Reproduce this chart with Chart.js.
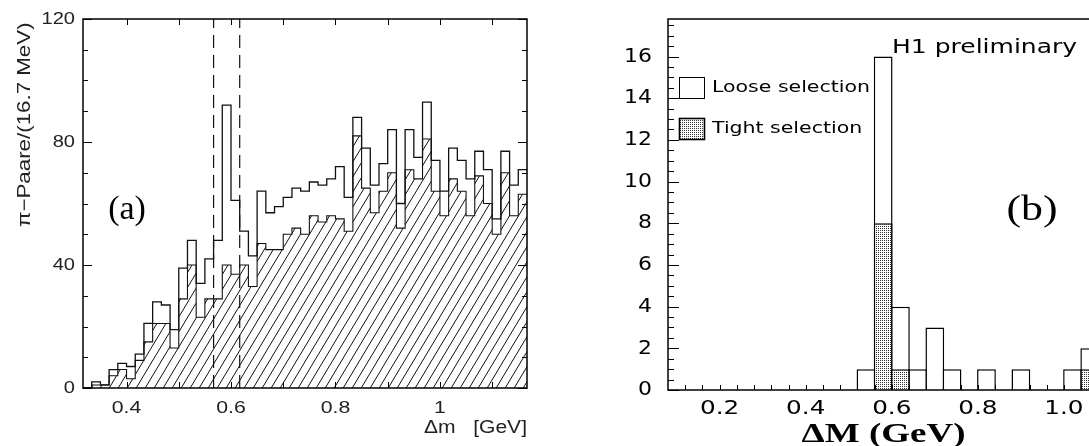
<!DOCTYPE html>
<html>
<head>
<meta charset="utf-8">
<script src="https://cdn.jsdelivr.net/npm/chart.js@4.4.1/dist/chart.umd.min.js"></script>
<style>
  html, body { margin: 0; padding: 0; background: #fff; overflow: hidden; }
  #page { position: relative; width: 1089px; height: 446px; overflow: hidden; background: #fff; }
  #pairs { position: absolute; left: 0; top: 0; }
  #dm { position: absolute; left: 560px; top: 0; }
</style>
</head>
<body>
<div id="page">
  <canvas id="pairs" width="545" height="446"></canvas>
  <canvas id="dm" width="600" height="446"></canvas>
</div>
<script>
// (a) pion pairs per 16.7 MeV bin; bin edges are counted in 1/60 GeV
const PAIR_FIRST_EDGE = 19;
const PAIR_ALL = [0, 2, 1, 6, 8, 7, 11, 21, 28, 27, 19, 39, 48, 34, 42, 48, 92, 61, 51, 43,
  64, 57, 59, 62, 65, 64, 67, 66, 68, 72, 62, 88, 78, 66, 73, 84, 60, 84, 75, 93,
  74, 64, 78, 74, 68, 77, 71, 55, 77, 66, 71];
const PAIR_HATCHED = [0, 1, 1, 4, 6, 3, 9, 15, 21, 21, 13, 29, 40, 23, 29, 29, 40, 37, 40, 33,
  47, 45, 45, 50, 52, 50, 56, 54, 56, 55, 51, 82, 65, 57, 64, 70, 52, 71, 68, 81,
  64, 56, 68, 64, 56, 69, 60, 50, 70, 56, 63];
const PAIR_CUTS = [34 / 60, 37 / 60];
const PAIR_Y_LABELS = [0, 40, 80, 120];
const PAIR_X_LABELS = [0.4, 0.6, 0.8, 1.0];

// (b) delta M, 40 MeV bins (low edges)
const DM_WIDTH = 0.04;
const DM_BINS = [0.52, 0.56, 0.60, 0.64, 0.68, 0.72, 0.76, 0.80, 0.84, 0.88, 0.92, 0.96, 1.00, 1.04];
const DM_LOOSE = [1, 16, 4, 1, 3, 1, 0, 1, 0, 1, 0, 0, 1, 2];
const DM_TIGHT = [0, 8, 1, 0, 0, 0, 0, 0, 0, 0, 0, 0, 0, 1];
const DM_Y_LABELS = [0, 2, 4, 6, 8, 10, 12, 14, 16];
const DM_X_LABELS = [0.2, 0.4, 0.6, 0.8, 1.0];

function hatchPattern() {
  const c = document.createElement('canvas');
  c.width = 9; c.height = 15;
  const g = c.getContext('2d');
  g.strokeStyle = '#111';
  g.lineWidth = 1;
  g.beginPath();
  for (const dx of [-9, 0, 9]) { g.moveTo(dx, 15); g.lineTo(dx + 9, 0); }
  g.stroke();
  return g.createPattern(c, 'repeat');
}

function stipplePattern() {
  const c = document.createElement('canvas');
  c.width = 2; c.height = 2;
  const g = c.getContext('2d');
  g.fillStyle = '#fff'; g.fillRect(0, 0, 2, 2);
  g.fillStyle = '#333'; g.fillRect(0, 0, 1, 1);
  return g.createPattern(c, 'repeat');
}

// text stretched horizontally by sx
function putText(ctx, str, x, y, o) {
  ctx.save();
  ctx.font = o.font;
  ctx.fillStyle = o.color || '#000';
  ctx.textAlign = o.align || 'left';
  ctx.textBaseline = o.baseline || 'middle';
  ctx.translate(x, y);
  if (o.rotate) ctx.rotate(o.rotate);
  ctx.scale(o.sx || 1, 1);
  ctx.fillText(str, 0, 0);
  ctx.restore();
}

// frame, inward ticks and tick labels
const axisDecor = {
  id: 'axisDecor',
  afterDraw(chart, _args, o) {
    const { ctx, chartArea: a, scales: { x, y } } = chart;
    ctx.save();
    ctx.strokeStyle = '#000';
    ctx.lineWidth = 1;
    ctx.beginPath();
    for (const t of o.yTicks) {
      const py = Math.round(y.getPixelForValue(t.v)) + 0.5;
      const len = t.major ? o.yMajorLen : o.yMinorLen;
      ctx.moveTo(a.left, py); ctx.lineTo(a.left + len, py);
      if (o.bothSides) { ctx.moveTo(a.right, py); ctx.lineTo(a.right - len, py); }
    }
    for (const v of o.xTicks) {
      const px = Math.round(x.getPixelForValue(v)) + 0.5;
      ctx.moveTo(px, a.bottom); ctx.lineTo(px, a.bottom - o.xLen);
      if (o.bothSides) { ctx.moveTo(px, a.top); ctx.lineTo(px, a.top + o.xLen); }
    }
    ctx.stroke();
    ctx.lineWidth = o.frameWidth;
    ctx.strokeRect(a.left, a.top, a.width, a.height);
    ctx.restore();

    for (const v of o.yLabels) {
      putText(ctx, String(v), a.left - o.yLabelGap, y.getPixelForValue(v),
        { font: o.yFont, sx: o.ySx, align: 'right', color: o.color });
    }
    for (const v of o.xLabels) {
      putText(ctx, o.xFormat(v), x.getPixelForValue(v), a.bottom + o.xLabelGap,
        { font: o.xFont, sx: o.xSx, align: 'center', color: o.color });
    }
  }
};

const pairNotes = {
  id: 'pairNotes',
  afterDraw(chart) {
    const { ctx, chartArea: a } = chart;
    putText(ctx, '(a)', a.left + 44, 210, { font: '34px "Liberation Serif"', align: 'center' });
    putText(ctx, 'π−Paare/(16.7 MeV)', 25, 227,
      { font: '18px "Liberation Sans"', sx: 1.24, rotate: -Math.PI / 2, color: '#222' });
    putText(ctx, 'Δm   [GeV]', a.right, 428,
      { font: '18px "Liberation Sans"', sx: 1.17, align: 'right', color: '#222' });
  }
};

const dmNotes = {
  id: 'dmNotes',
  afterDraw(chart) {
    const { ctx, chartArea: a } = chart;
    const sets = chart.data.datasets;
    // legend in the upper left corner of the frame
    const rows = [sets[1], sets[0]];
    rows.forEach((ds, i) => {
      const bx = a.left + 11, by = a.top + 58 + i * 41;
      ctx.save();
      ctx.fillStyle = ds.backgroundColor;
      ctx.fillRect(bx, by, 25, 21);
      ctx.strokeStyle = '#000';
      ctx.lineWidth = i === 0 ? 1 : 1.6;
      ctx.strokeRect(bx + 0.5, by + 0.5, 25, 21);
      ctx.restore();
      putText(ctx, ds.label, a.left + 44, by + 11,
        { font: '16px "DejaVu Sans"', sx: 1.28 });
    });
    putText(ctx, 'H1 preliminary', 332, 53,
      { font: '20px "DejaVu Sans"', sx: 1.25, baseline: 'alphabetic' });
    putText(ctx, '(b)', 472, 211, { font: '35px "Liberation Serif"', sx: 1.25, align: 'center' });
    putText(ctx, 'ΔM (GeV)', 323.5, 442,
      { font: 'bold 27px "Liberation Serif"', sx: 1.37, align: 'center', baseline: 'alphabetic' });
  }
};

// ---- (a) ----
const pairEdges = [];
for (let i = 0; i <= PAIR_ALL.length; i++) pairEdges.push((PAIR_FIRST_EDGE + i) / 60);
const stepPoints = vals => pairEdges.map((x, i) => ({ x, y: vals[Math.min(i, vals.length - 1)] }));

const pairYTicks = [];
for (let v = 0; v <= 120; v += 10) pairYTicks.push({ v, major: PAIR_Y_LABELS.includes(v) });
const pairXTicks = [];
for (let k = 4; k <= 11; k++) pairXTicks.push(k / 10);

new Chart(document.getElementById('pairs'), {
  type: 'line',
  data: {
    datasets: [
      {
        data: stepPoints(PAIR_ALL), stepped: 'before', borderColor: '#111', borderWidth: 1.3,
        pointRadius: 0, fill: false, order: 0
      },
      {
        data: stepPoints(PAIR_HATCHED), stepped: 'before', borderColor: '#111', borderWidth: 1.1,
        pointRadius: 0, fill: 'origin', backgroundColor: hatchPattern(), order: 1
      },
      ...PAIR_CUTS.map(c => ({
        data: [{ x: c, y: 0 }, { x: c, y: 120 }], borderColor: '#111', borderWidth: 1.2,
        borderDash: [13, 7], pointRadius: 0, fill: false, order: 2
      }))
    ]
  },
  options: {
    responsive: false,
    animation: false,
    layout: { padding: { left: 83, top: 19, right: 18, bottom: 58 } },
    scales: {
      x: { type: 'linear', min: PAIR_FIRST_EDGE / 60, max: (PAIR_FIRST_EDGE + PAIR_ALL.length) / 60, display: false },
      y: { min: 0, max: 120, display: false }
    },
    plugins: {
      legend: { display: false },
      tooltip: { enabled: false },
      axisDecor: {
        yTicks: pairYTicks, xTicks: pairXTicks, bothSides: true,
        yMajorLen: 9, yMinorLen: 5, xLen: 6, frameWidth: 1.5,
        yLabels: PAIR_Y_LABELS, xLabels: PAIR_X_LABELS,
        yFont: '17px "Liberation Sans"', ySx: 1.18, yLabelGap: 8,
        xFont: '17px "Liberation Sans"', xSx: 1.25, xLabelGap: 20,
        xFormat: v => (v === 1 ? '1' : v.toFixed(1)), color: '#222'
      }
    }
  },
  plugins: [axisDecor, pairNotes]
});

// ---- (b) ----
const dmYTicks = [];
for (let k = 0; k <= 35; k++) dmYTicks.push({ v: k / 2, major: k % 4 === 0 });
const dmXTicks = [];
for (let k = 3; k <= 29; k++) dmXTicks.push(k * DM_WIDTH);

const barSet = (label, vals, fill, order) => ({
  label,
  data: DM_BINS.map((b, i) => ({ x: b + DM_WIDTH / 2, y: vals[i] })),
  backgroundColor: fill, borderColor: '#000', borderWidth: 1.5,
  barPercentage: 1.09, categoryPercentage: 1, grouped: false, order
});

new Chart(document.getElementById('dm'), {
  type: 'bar',
  data: {
    datasets: [
      barSet('Tight selection', DM_TIGHT, stipplePattern(), 0),
      barSet('Loose selection', DM_LOOSE, '#fff', 1)
    ]
  },
  options: {
    responsive: false,
    animation: false,
    layout: { padding: { left: 108, top: 19, right: 10, bottom: 56 } },
    scales: {
      x: { type: 'linear', min: 0.08, max: 1.2, display: false, offset: false },
      y: { min: 0, max: 17.8, display: false }
    },
    plugins: {
      legend: { display: false },
      tooltip: { enabled: false },
      axisDecor: {
        yTicks: dmYTicks, xTicks: dmXTicks, bothSides: false,
        yMajorLen: 11, yMinorLen: 6, xLen: 5, frameWidth: 1.5,
        yLabels: DM_Y_LABELS, xLabels: DM_X_LABELS,
        yFont: '20px "DejaVu Sans"', ySx: 1.1, yLabelGap: 16,
        xFont: '19px "DejaVu Sans"', xSx: 1.3, xLabelGap: 19,
        xFormat: v => v.toFixed(1), color: '#000'
      }
    }
  },
  plugins: [axisDecor, dmNotes]
});
</script>
</body>
</html>
